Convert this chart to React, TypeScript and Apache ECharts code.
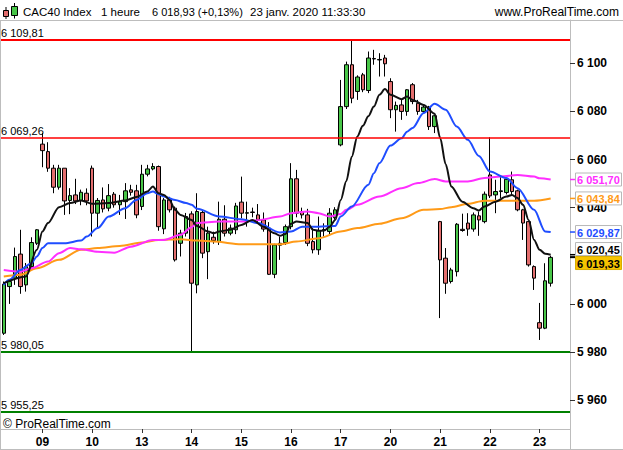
import React, { useEffect, useRef } from 'react';
import * as echarts from 'echarts';

// ---------- categories (hourly candles) ----------
const dayLabels = ['08', '09', '10', '13', '14', '15', '16', '17', '20', '21', '22', '23'];
const firstSession = [11, 12, 13, 14, 15, 16, 17];
const fullSession = [9, 10, 11, 12, 13, 14, 15, 16, 17];
const lastSession = [9, 10, 11, 12, 13, 14];

// ---------- candles ----------
const opens = [
  5987.8, 6007.2, 6010.7, 6020.7, 6007.9, 6015.5, 6025.2,
  6066.4, 6063.3, 6056.4, 6048.5, 6056.4, 6043.0, 6045.3, 6043.0, 6046.0,
  6056.4, 6037.7, 6043.2, 6039.8, 6045.6, 6041.2, 6042.5, 6047.4, 6047.0,
  6040.5, 6053.9, 6056.1, 6057.1, 6031.2, 6043.2, 6039.8, 6025.2, 6029.4,
  6037.4, 6007.9, 6038.0, 6021.7, 6027.7, 6025.9, 6035.2, 6029.4, 6030.8,
  6042.3, 6037.7, 6038.2, 6037.0, 6034.9, 6031.5, 6012.3, 6024.4, 6025.5,
  6032.1, 6052.0, 6038.4, 6037.0, 6025.9, 6022.5, 6030.5, 6030.1, 6035.8,
  6066.1, 6082.0, 6099.4, 6088.3, 6095.2, 6088.7, 6102.0, 6101.4, 6102.2,
  6092.4, 6080.7, 6082.7, 6080.0, 6091.1, 6083.4, 6080.0, 6081.8, 6073.7,
  6034.2, 6019.0, 6009.3, 6013.4, 6031.0, 6033.6, 6031.1, 6036.6, 6034.2,
  6053.6, 6045.3, 6046.7, 6046.3, 6051.6, 6047.0, 6039.1, 6034.2, 6015.5,
  5992.2, 5989.9, 6008.6,
];
const closes = [
  6008.2, 6009.3, 6019.7, 6007.2, 6015.5, 6025.5, 6030.8,
  6063.7, 6056.4, 6048.5, 6056.4, 6042.8, 6045.0, 6042.8, 6046.4, 6042.8,
  6037.7, 6043.0, 6039.5, 6045.0, 6041.2, 6042.5, 6047.0, 6046.4, 6037.0,
  6053.9, 6056.1, 6057.1, 6032.1, 6043.2, 6039.1, 6018.3, 6029.4, 6036.3,
  6008.6, 6038.4, 6021.1, 6029.4, 6026.3, 6035.2, 6029.4, 6031.5, 6040.7,
  6037.7, 6037.9, 6038.0, 6034.9, 6031.1, 6012.3, 6024.5, 6025.2, 6032.1,
  6052.0, 6037.7, 6037.0, 6025.2, 6022.5, 6030.5, 6030.9, 6037.7, 6039.1,
  6082.0, 6099.4, 6085.5, 6094.3, 6089.0, 6102.2, 6101.8, 6101.6, 6099.8,
  6080.7, 6082.5, 6080.0, 6089.0, 6084.1, 6080.0, 6081.8, 6073.7, 6078.2,
  6018.3, 6008.6, 6014.1, 6033.1, 6030.5, 6031.1, 6037.0, 6034.9, 6045.6,
  6044.9, 6046.7, 6047.0, 6051.8, 6046.7, 6039.1, 6033.6, 6016.2, 6010.7,
  5989.9, 6009.6, 6019.33,
];
const lows = [
  5987.1, 6000.0, 6007.9, 6004.2, 6005.1, 6014.5, 6024.5,
  6056.8, 6054.9, 6046.0, 6047.5, 6037.0, 6037.3, 6041.5, 6041.0, 6041.0,
  6028.0, 6031.5, 6038.0, 6038.5, 6040.0, 6037.0, 6035.3, 6045.0, 6035.6,
  6039.0, 6053.0, 6055.5, 6030.4, 6029.0, 6038.0, 6017.6, 6019.7, 6028.0,
  5980.05, 6004.4, 6019.0, 6010.3, 6025.0, 6024.5, 6028.0, 6028.5, 6029.0,
  6035.6, 6032.1, 6036.0, 6034.0, 6030.0, 6012.0, 6010.7, 6018.3, 6024.5,
  6031.0, 6036.0, 6035.5, 6024.0, 6021.0, 6020.4, 6028.0, 6029.0, 6035.0,
  6065.5, 6081.0, 6083.4, 6084.8, 6088.0, 6087.6, 6099.4, 6094.5, 6094.5,
  6077.2, 6071.6, 6076.5, 6078.2, 6083.0, 6078.6, 6079.0, 6072.3, 6071.0,
  5994.1, 6004.2, 6008.5, 6011.4, 6030.0, 6028.3, 6030.0, 6028.3, 6033.5,
  6044.0, 6037.7, 6044.0, 6045.5, 6045.0, 6038.5, 6026.6, 6015.5, 6005.8,
  5985.0, 5989.5, 6007.2,
];
const highs = [
  6009.3, 6010.0, 6023.4, 6030.8, 6017.0, 6027.7, 6031.1,
  6071.0, 6067.2, 6057.8, 6057.8, 6056.4, 6048.1, 6052.0, 6047.5, 6048.0,
  6057.5, 6044.0, 6048.4, 6049.8, 6046.5, 6045.3, 6050.2, 6049.5, 6049.5,
  6057.8, 6057.8, 6058.5, 6057.5, 6044.0, 6044.5, 6040.5, 6030.8, 6037.8,
  6038.5, 6046.0, 6039.0, 6032.1, 6030.0, 6042.5, 6041.0, 6033.0, 6042.0,
  6052.9, 6042.5, 6040.0, 6041.5, 6038.0, 6034.0, 6025.0, 6028.0, 6033.0,
  6058.5, 6055.7, 6040.0, 6039.5, 6031.6, 6036.3, 6033.5, 6039.8, 6040.2,
  6093.1, 6100.7, 6109.81, 6095.0, 6096.0, 6104.9, 6105.6, 6104.2, 6103.5,
  6093.8, 6084.1, 6084.8, 6089.3, 6091.8, 6084.8, 6082.5, 6082.3, 6078.5,
  6034.5, 6023.2, 6015.0, 6033.6, 6037.5, 6037.7, 6038.0, 6038.4, 6046.7,
  6069.26, 6051.6, 6053.0, 6052.3, 6055.0, 6047.5, 6039.5, 6034.5, 6016.0,
  6000.4, 6016.9, 6020.0,
];

// ---------- moving averages, read at candle indices ----------
const maBlack: [number, number][] = [
  [0, 6008.6], [4, 6011.4], [6, 6022.5], [7, 6030.1], [8, 6033.6], [10, 6040.2], [12, 6041.9],
  [14, 6043.0], [16, 6041.6], [19, 6041.9], [22, 6043.0], [24, 6044.4], [26, 6046.7], [27, 6048.8],
  [28, 6046.0], [29, 6045.3], [30, 6043.2], [31, 6039.1], [32, 6037.0], [34, 6034.9], [35, 6032.4],
  [37, 6030.1], [38, 6029.4], [39, 6030.1], [41, 6030.8], [43, 6032.8], [45, 6034.9], [47, 6032.1],
  [49, 6029.4], [50, 6028.3], [51, 6029.1], [52, 6033.3], [53, 6034.2], [55, 6033.6], [56, 6030.8],
  [57, 6030.4], [58, 6030.5], [59, 6032.1], [60, 6034.9], [61, 6043.2], [62, 6051.0], [63, 6061.2],
  [64, 6069.6], [65, 6074.0], [66, 6078.0], [67, 6082.0], [68, 6086.9], [69, 6089.3], [70, 6086.9],
  [72, 6085.1], [73, 6086.2], [74, 6084.8], [76, 6082.7], [78, 6079.0], [79, 6069.0], [80, 6058.0],
  [81, 6048.8], [83, 6042.5], [85, 6039.8], [86, 6038.8], [87, 6040.5], [89, 6042.5], [91, 6044.6],
  [92, 6045.3], [93, 6044.0], [94, 6041.2], [95, 6034.9], [96, 6026.6], [97, 6022.5], [98, 6020.8],
  [99, 6020.45],
];
const maBlue: [number, number][] = [
  [0, 6007.9], [1, 6010.0], [3, 6014.1], [5, 6016.9], [6, 6019.7], [7, 6023.2], [8, 6025.2],
  [11, 6025.2], [14, 6026.3], [15, 6028.0], [17, 6031.5], [19, 6036.3], [22, 6039.8], [24, 6043.2],
  [26, 6046.0], [27, 6046.7], [28, 6045.6], [29, 6044.6], [31, 6043.2], [33, 6041.9], [34, 6041.2],
  [35, 6039.5], [39, 6036.3], [43, 6035.2], [46, 6033.6], [50, 6029.7], [52, 6030.1], [54, 6032.1],
  [57, 6032.1], [60, 6032.4], [61, 6036.3], [63, 6040.5], [66, 6049.5], [67, 6054.3], [68, 6058.5],
  [70, 6065.8], [72, 6068.8], [73, 6071.6], [74, 6073.1], [76, 6079.3], [78, 6083.2], [80, 6080.7],
  [82, 6073.7], [84, 6068.2], [86, 6061.5], [88, 6055.0], [91, 6052.3], [93, 6048.1], [96, 6039.1],
  [98, 6030.1], [99, 6029.87],
];
const maMagenta: [number, number][] = [
  [0, 6014.1], [3, 6013.4], [5, 6014.8], [8, 6017.6], [10, 6021.1], [12, 6023.2], [14, 6022.7],
  [17, 6021.7], [20, 6021.3], [23, 6023.8], [27, 6026.6], [29, 6026.6], [32, 6028.7], [34, 6031.9],
  [35, 6033.6], [39, 6034.2], [43, 6034.2], [46, 6034.8], [50, 6036.3], [52, 6037.7], [55, 6038.4],
  [57, 6037.7], [59, 6036.3], [61, 6037.4], [62, 6039.1], [64, 6041.2], [68, 6044.6], [72, 6048.1],
  [75, 6050.2], [78, 6051.9], [80, 6050.9], [84, 6050.9], [87, 6052.3], [90, 6052.9], [93, 6053.6],
  [96, 6052.9], [97, 6052.2], [99, 6051.7],
];
const maOrange: [number, number][] = [
  [0, 6011.4], [3, 6012.1], [6, 6014.8], [10, 6018.3], [14, 6022.5], [17, 6023.2], [21, 6024.1],
  [25, 6025.5], [28, 6026.6], [32, 6026.9], [35, 6026.3], [38, 6025.9], [43, 6024.8], [50, 6024.8],
  [53, 6025.9], [57, 6027.3], [61, 6030.1], [64, 6031.5], [68, 6033.3], [72, 6035.6], [76, 6039.1],
  [79, 6039.4], [81, 6040.2], [84, 6041.6], [87, 6042.9], [92, 6042.9], [96, 6042.9], [99, 6043.84],
];

// ---------- horizontal levels ----------
const majorResistance = [6109.81];
const minorResistance = [6069.26];
const supportLevels = [5980.05, 5955.25];

// ---------- axis ticks / labels ----------
const yTicks = [5960, 5980, 6000, 6020, 6040, 6060, 6080, 6100];
// 6 020 is fully hidden behind the value tags in the reference
const yTickLabels = [5960, 5980, 6000, 6040, 6060, 6080, 6100];

// ---------- header texts ----------
const instrument = 'CAC40 Index';
const period = '1 heure';
const quote = '6 018,93 (+0,13%)';
const stamp = '23 janv. 2020 11:33:30';
const site = 'www.ProRealTime.com';
const copyright = '© ProRealTime.com';

// ---------- styles ----------
const W = 623;
const H = 450;
const GRID = { left: 1, right: 53, top: 20, bottom: 21 };
const UP = '#48c648';
const DOWN = '#e36e6e';
const BLACK = '#111111';
const BLUE = '#1f4dff';
const MAGENTA = '#ff2eff';
const ORANGE = '#ff9a17';
const FRAME = '#bdbdbd';
const RED = '#ff0000';
const GREEN = '#008000';
const FONT = '"Liberation Sans", Arial, sans-serif';

function fmtInt(v: number): string {
  const s = String(Math.round(v));
  return s.length > 3 ? s.slice(0, s.length - 3) + ' ' + s.slice(s.length - 3) : s;
}
function fmtDec(v: number): string {
  const [i, d] = v.toFixed(2).split('.');
  return fmtInt(Number(i)) + ',' + d;
}

function buildCategories(): string[] {
  const out: string[] = [];
  dayLabels.forEach((d, k) => {
    const hours = k === 0 ? firstSession : k === dayLabels.length - 1 ? lastSession : fullSession;
    hours.forEach((h) => out.push(`${d} ${h}h`));
  });
  return out;
}

function levelMarkLine(values: number[], color: string, width: number) {
  return {
    silent: true,
    symbol: ['none', 'none'],
    animation: false,
    lineStyle: { color, width, type: 'solid', opacity: 1 },
    emphasis: { disabled: true },
    label: {
      show: true,
      position: 'insideStartTop',
      formatter: (p: any) => fmtDec(p.value),
      color: '#000',
      fontSize: 11,
      fontFamily: FONT,
      distance: [0, 1],
    },
    data: values.map((v) => ({ yAxis: v })),
  };
}

export default function App() {
  const ref = useRef<HTMLDivElement>(null);

  useEffect(() => {
    if (!ref.current) return;
    const chart = echarts.init(ref.current, null, { renderer: 'svg' });
    const categories = buildCategories();
    const isDayStart = (_i: number, v: string) => / 9h$/.test(v);
    const candleData = opens.map((o, i) => [o, closes[i], lows[i], highs[i]]);

    const maSeries = (data: [number, number][], color: string, markLine?: any) => ({
      type: 'line',
      data,
      symbol: 'none',
      smooth: 0.3,
      smoothMonotone: 'x',
      lineStyle: { color, width: 2 },
      itemStyle: { color },
      silent: true,
      ...(markLine ? { markLine } : {}),
    });

    const option: any = {
      animation: false,
      backgroundColor: '#ffffff',
      textStyle: { fontFamily: FONT },
      grid: { ...GRID, containLabel: false },
      xAxis: {
        type: 'category',
        data: categories,
        boundaryGap: true,
        axisLine: { show: true, lineStyle: { color: FRAME, width: 1 } },
        axisTick: {
          show: true,
          alignWithLabel: true,
          interval: isDayStart,
          length: 4,
          lineStyle: { color: '#333' },
        },
        axisLabel: {
          interval: isDayStart,
          formatter: (v: string) => v.slice(0, 2),
          fontWeight: 'bold',
          fontSize: 12,
          color: '#000',
          margin: 7,
          fontFamily: FONT,
        },
        splitLine: { show: false },
      },
      yAxis: {
        type: 'value',
        position: 'right',
        min: 5948,
        max: 6118,
        axisLine: { show: true, lineStyle: { color: FRAME, width: 1 } },
        axisTick: { show: true, length: 5, customValues: yTicks, lineStyle: { color: '#333' } },
        axisLabel: {
          customValues: yTickLabels,
          formatter: (v: number) => fmtInt(v),
          fontWeight: 'bold',
          fontSize: 12,
          color: '#000',
          margin: 7,
          fontFamily: FONT,
        },
        splitLine: { show: false },
      },
      series: [
        {
          type: 'candlestick',
          data: candleData,
          barWidth: 4,
          itemStyle: {
            color: UP,
            color0: DOWN,
            borderColor: '#000',
            borderColor0: '#000',
            borderColorDoji: '#000',
            borderWidth: 1,
          },
          silent: true,
          markLine: levelMarkLine(supportLevels, GREEN, 2),
        },
        maSeries(maOrange, ORANGE, levelMarkLine(minorResistance, RED, 1.6)),
        maSeries(maMagenta, MAGENTA, levelMarkLine(majorResistance, RED, 2)),
        maSeries(maBlue, BLUE),
        maSeries(maBlack, BLACK),
      ],
    };
    chart.setOption(option);

    // ---------- right-hand value labels ----------
    const axisX = W - GRID.right;
    const bottomY = H - GRID.bottom;
    const last = (a: [number, number][]) => a[a.length - 1][1];
    const tags = [
      { v: last(maMagenta), color: MAGENTA, fill: '#ffffff', stroke: '#b8b8b8', tick: MAGENTA },
      { v: last(maOrange), color: ORANGE, fill: '#ffffff', stroke: '#b8b8b8', tick: ORANGE },
      { v: last(maBlue), color: BLUE, fill: '#ffffff', stroke: '#b8b8b8', tick: BLUE },
      { v: last(maBlack), color: '#000', fill: '#ffffff', stroke: '#b8b8b8', tick: '#000' },
      { v: closes[closes.length - 1], color: '#000', fill: '#f6c400', stroke: '#d9ad00', tick: '#000' },
    ].map((t) => {
      const y = chart.convertToPixel({ yAxisIndex: 0 }, t.v) as number;
      return { ...t, y, cy: y };
    });
    tags.sort((a, b) => a.y - b.y);
    const boxH = 14;
    for (let i = 1; i < tags.length; i++) {
      if (tags[i].cy - tags[i - 1].cy < boxH) {
        const mid = (tags[i].cy + tags[i - 1].cy) / 2;
        tags[i - 1].cy = mid - boxH / 2;
        tags[i].cy = mid + boxH / 2;
      }
    }

    const txt = (text: string, x: number, y: number, extra: any = {}) => ({
      type: 'text',
      silent: true,
      z: 100,
      style: {
        text,
        x,
        y,
        font: `11.5px ${FONT}`,
        fill: '#000',
        align: 'left',
        verticalAlign: 'middle',
        textAlign: 'left',
        textVerticalAlign: 'middle',
        ...extra,
      },
    });
    const ln = (x1: number, y1: number, x2: number, y2: number, stroke: string, lw = 1) => ({
      type: 'line',
      silent: true,
      z: 100,
      shape: { x1, y1, x2, y2 },
      style: { stroke, lineWidth: lw },
    });

    const graphics: any[] = [
      // frame
      ln(0, GRID.top + 0.5, W, GRID.top + 0.5, FRAME),
      ln(0.5, GRID.top, 0.5, H - 0.5, FRAME),
      ln(0, H - 0.5, W, H - 0.5, FRAME),
      ln(axisX + 0.5, bottomY, axisX + 0.5, H - 0.5, FRAME),
      // header icon
      ln(6, 7, 6, 19, '#000'),
      { type: 'rect', silent: true, z: 101, shape: { x: 3.5, y: 10.5, width: 5, height: 6 }, style: { fill: DOWN, stroke: '#000', lineWidth: 1 } },
      ln(14.5, 3, 14.5, 18.5, '#000'),
      { type: 'rect', silent: true, z: 101, shape: { x: 11.5, y: 6.5, width: 6, height: 9 }, style: { fill: UP, stroke: '#000', lineWidth: 1 } },
      // header texts
      txt(instrument, 23, 11.5),
      txt(period, 101, 11.5),
      txt(quote, 152, 11.5, { font: `11px ${FONT}` }),
      txt(stamp, 250, 11.5),
      txt(site, 619, 11.5, { align: 'right', textAlign: 'right', font: `12px ${FONT}` }),
      txt(copyright, 3, 424, { font: `12px ${FONT}` }),
    ];

    tags.forEach((t) => {
      graphics.push(ln(axisX, t.y, axisX + 5, t.y, t.tick, 1.5));
      graphics.push({
        type: 'rect',
        silent: true,
        z: 100,
        shape: { x: axisX + 5.5, y: t.cy - boxH / 2 + 0.5, width: 46, height: boxH - 1 },
        style: { fill: t.fill, stroke: t.stroke, lineWidth: 1 },
      });
      graphics.push(
        txt(fmtDec(t.v), axisX + 7, t.cy + 0.5, { font: `bold 11px ${FONT}`, fill: t.color }),
      );
    });

    chart.setOption({ graphic: graphics });

    return () => chart.dispose();
  }, []);

  return (
    <div
      ref={ref}
      style={{ position: 'fixed', left: 0, top: 0, width: W, height: H, background: '#fff' }}
    />
  );
}
